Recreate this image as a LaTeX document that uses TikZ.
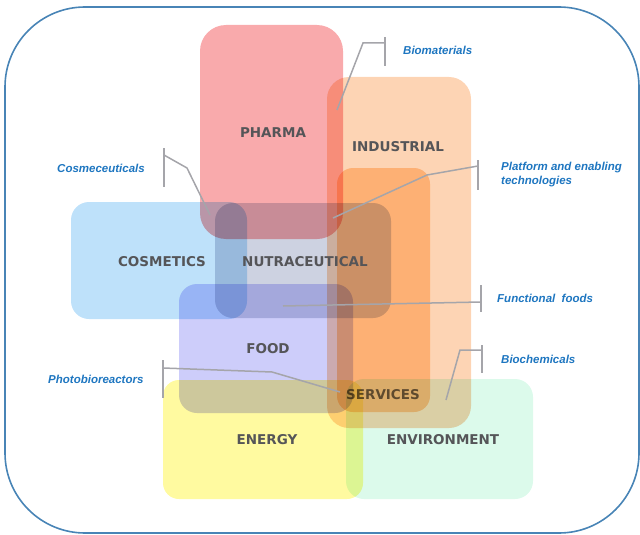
\documentclass[tikz,border=0pt]{standalone}
\usepackage{fontspec}
\newfontfamily\catfont{DejaVu Sans}
\newfontfamily\notefont{Liberation Sans}
\definecolor{framecol}{RGB}{72,132,182}
\definecolor{catgray}{RGB}{85,85,88}
\definecolor{notecol}{RGB}{30,118,192}
\definecolor{leadgray}{RGB}{165,165,170}
\definecolor{pharmacol}{RGB}{249,170,172}
\definecolor{industcol}{RGB}{253,212,180}
\definecolor{servcol}{RGB}{255,212,165}
\definecolor{cosmcol}{RGB}{190,225,250}
\definecolor{nutracol}{RGB}{205,210,225}
\definecolor{foodcol}{RGB}{205,205,250}
\definecolor{energycol}{RGB}{255,250,160}
\definecolor{envcol}{RGB}{220,250,235}
\begin{document}
\begin{tikzpicture}[x=1pt,y=-1pt,
  area/.style={rounded corners=#1},
  cat/.style={font=\catfont\bfseries\fontsize{13.5}{15}\selectfont, text=catgray, inner sep=0pt},
  note/.style={font=\notefont\bfseries\itshape\fontsize{11.5}{14}\selectfont, text=notecol, inner sep=0pt, anchor=west, align=left},
  leader/.style={draw=leadgray, line width=1.5pt},
]
\useasboundingbox (0,0) rectangle (640,535);

% outer frame
\draw[framecol, line width=1.6pt, rounded corners=80pt] (5,7) rectangle (639,533);

% overlapping application areas, mixed multiplicatively
\begin{scope}[blend group=multiply]
  \fill[energycol, area=16pt] (163,380) rectangle (363,499);
  \fill[envcol, area=18pt] (346,379) rectangle (533,499);
  \fill[industcol, area=22pt] (327,77) rectangle (471,428);
  \fill[servcol, area=16pt] (337,168) rectangle (430,412);
  \fill[nutracol, area=18pt] (215,203) rectangle (391,318);
  \fill[cosmcol, area=18pt] (71,202) rectangle (247,319);
  \fill[pharmacol, area=26pt] (200,25) rectangle (343,239);
  \fill[foodcol, area=18pt] (179,284) rectangle (353,413);
  \node[cat, text=catgray!85!white] (services) at (383,395) {SERVICES};
\end{scope}

% category labels
\node[cat] (pharma) at (273,133) {PHARMA};
\node[cat] (industrial) at (398,147) {INDUSTRIAL};
\node[cat] (cosmetics) at (162,262) {COSMETICS};
\node[cat] (nutra) at (305,262) {NUTRACEUTICAL};
\node[cat] (food) at (268,349) {FOOD};
\node[cat] (energy) at (267,440) {ENERGY};
\node[cat] (environment) at (443,440) {ENVIRONMENT};

% callout labels
\node[note] (biomat) at (403,50) {Biomaterials};
\node[note] (cosmeceut) at (57,168) {Cosmeceuticals};
\node[note] (platform) at (501,175) {Platform and enabling\\technologies};
\node[note] (functional) at (497,298) {Functional\ \ foods};
\node[note] (biochem) at (501,359) {Biochemicals};
\node[note] (photo) at (48,379) {Photobioreactors};

% leader line points
\coordinate (bmA) at (337,110); \coordinate (bmB) at (363,43); \coordinate (bmC) at (385,43);
\coordinate (bmT1) at (385,37); \coordinate (bmT2) at (385,66);
\coordinate (csA) at (210,215); \coordinate (csB) at (187,168); \coordinate (csC) at (164,155);
\coordinate (csT1) at (164,148); \coordinate (csT2) at (164,187);
\coordinate (plA) at (333,218); \coordinate (plB) at (427,175); \coordinate (plC) at (478,166);
\coordinate (plT1) at (478,160); \coordinate (plT2) at (478,190);
\coordinate (ffA) at (283,306); \coordinate (ffC) at (481,302);
\coordinate (ffT1) at (481,285); \coordinate (ffT2) at (481,312);
\coordinate (phA) at (340,392); \coordinate (phB) at (272,372); \coordinate (phC) at (163,368);
\coordinate (phT1) at (163,360); \coordinate (phT2) at (163,398);
\coordinate (bcA) at (446,400); \coordinate (bcB) at (460,350); \coordinate (bcC) at (482,350);
\coordinate (bcT1) at (482,345); \coordinate (bcT2) at (482,373);

% leader lines with end bars
\draw[leader] (bmA) -- (bmB) -- (bmC); \draw[leader] (bmT1) -- (bmT2);
\draw[leader] (csA) -- (csB) -- (csC); \draw[leader] (csT1) -- (csT2);
\draw[leader] (plA) -- (plB) -- (plC); \draw[leader] (plT1) -- (plT2);
\draw[leader] (ffA) -- (ffC); \draw[leader] (ffT1) -- (ffT2);
\draw[leader] (phA) -- (phB) -- (phC); \draw[leader] (phT1) -- (phT2);
\draw[leader] (bcA) -- (bcB) -- (bcC); \draw[leader] (bcT1) -- (bcT2);
\end{tikzpicture}
\end{document}
